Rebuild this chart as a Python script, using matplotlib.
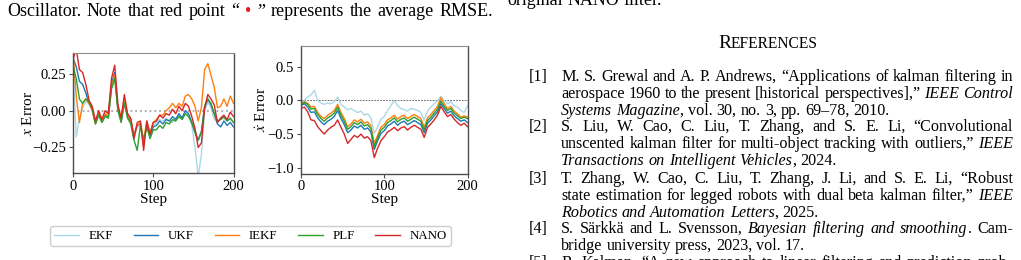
import numpy as np
import matplotlib
matplotlib.use("Agg")
import matplotlib.pyplot as plt

plt.rcParams["font.family"] = "serif"
plt.rcParams["font.serif"] = ["Liberation Serif", "DejaVu Serif"]
plt.rcParams["mathtext.fontset"] = "stix"

# steps (every 4th step)
steps = np.arange(0, 201, 4)

labels = ["EKF", "UKF", "IEKF", "PLF", "NANO"]
colors = ["lightblue", "#1f77b4", "#ff7f0e", "#2ca02c", "#d62728"]

# x error
x_ekf = [0.30, -0.18, -0.05, 0.02, 0.06, 0.05, 0.00, -0.09, -0.03, -0.08, -0.03, -0.05, 0.15, 0.22, 0.00, -0.08, 0.06,
         -0.05, -0.08, -0.19, -0.11, -0.10, -0.21, -0.08, -0.16, -0.10, -0.08, -0.06, -0.07, -0.05, -0.07, -0.08, -0.05,
         -0.03, -0.05, 0.00, -0.03, -0.10, -0.25, -0.45, -0.30, 0.00, 0.06, 0.02, -0.06, -0.07, -0.06, -0.05, -0.07,
         -0.06, -0.08]
x_ukf = [0.36, 0.30, 0.20, 0.18, 0.12, 0.05, 0.01, -0.08, -0.02, -0.07, -0.03, -0.04, 0.18, 0.26, 0.01, -0.07, 0.07,
         -0.04, -0.07, -0.17, -0.10, -0.09, -0.22, -0.09, -0.17, -0.11, -0.10, -0.07, -0.09, -0.06, -0.07, -0.04, -0.06,
         -0.02, -0.05, 0.00, -0.02, -0.08, -0.14, -0.20, -0.14, 0.02, 0.08, 0.04, -0.02, -0.09, -0.11, -0.07, -0.10,
         -0.08, -0.11]
x_iekf = [0.40, 0.10, -0.08, 0.05, 0.08, 0.05, 0.00, -0.09, -0.01, -0.07, -0.02, -0.04, 0.17, 0.24, 0.02, -0.06, 0.08,
          -0.03, -0.06, -0.17, -0.10, -0.08, -0.20, -0.07, -0.15, -0.08, -0.06, -0.03, -0.03, 0.00, 0.02, 0.05, 0.02,
          0.05, 0.03, 0.10, 0.11, 0.08, 0.03, -0.07, 0.02, 0.28, 0.32, 0.24, 0.16, 0.02, 0.03, 0.08, 0.03, 0.10, 0.05]
x_plf = [0.30, 0.22, 0.08, 0.05, 0.08, 0.06, 0.01, -0.09, -0.03, -0.08, -0.04, -0.05, 0.15, 0.22, 0.00, -0.08, 0.05,
         -0.05, -0.09, -0.20, -0.27, -0.10, -0.20, -0.11, -0.19, -0.13, -0.13, -0.10, -0.12, -0.08, -0.09, -0.06, -0.07,
         -0.04, -0.06, -0.02, -0.04, -0.08, -0.15, -0.20, -0.15, 0.03, 0.08, 0.05, -0.02, -0.07, -0.06, -0.04, -0.07,
         -0.05, -0.08]
x_nano = [0.35, 0.42, 0.28, 0.26, 0.18, 0.07, 0.03, -0.07, 0.00, -0.06, 0.00, -0.02, 0.22, 0.31, 0.04, -0.05, 0.11,
          -0.02, -0.05, -0.19, -0.08, -0.07, -0.27, -0.07, -0.16, -0.08, -0.07, -0.03, -0.05, -0.02, -0.03, 0.01, -0.02,
          0.03, 0.00, 0.05, 0.03, -0.04, -0.12, -0.25, -0.22, 0.02, 0.11, 0.08, 0.04, -0.08, -0.05, -0.03, -0.06,
          -0.01, -0.04]

# x-dot error
v_ekf = [-0.05, 0.00, 0.05, 0.08, 0.15, 0.00, -0.04, -0.06, -0.04, -0.05, -0.02, 0.05, -0.06, -0.10, -0.14, -0.12,
         -0.15, -0.18, -0.16, -0.22, -0.20, -0.26, -0.49, -0.40, -0.28, -0.24, -0.15, -0.08, 0.00, -0.08, -0.12, -0.14,
         -0.16, -0.12, -0.13, -0.15, -0.18, -0.30, -0.16, -0.10, -0.05, -0.01, 0.06, 0.00, -0.05, -0.02, -0.08, -0.10,
         -0.15, -0.18, -0.08]
v_ukf = [-0.08, -0.05, -0.10, -0.18, -0.17, -0.26, -0.32, -0.36, -0.31, -0.28, -0.24, -0.15, -0.27, -0.36, -0.48,
         -0.44, -0.38, -0.41, -0.37, -0.43, -0.41, -0.47, -0.73, -0.60, -0.49, -0.45, -0.38, -0.35, -0.31, -0.37, -0.33,
         -0.31, -0.36, -0.33, -0.30, -0.33, -0.36, -0.48, -0.34, -0.29, -0.23, -0.17, -0.05, -0.12, -0.19, -0.16, -0.23,
         -0.27, -0.31, -0.29, -0.33]
v_iekf = [-0.06, -0.02, -0.04, -0.10, -0.09, -0.18, -0.24, -0.27, -0.22, -0.19, -0.15, -0.06, -0.18, -0.27, -0.39,
          -0.35, -0.29, -0.32, -0.28, -0.34, -0.32, -0.38, -0.64, -0.52, -0.40, -0.36, -0.29, -0.26, -0.22, -0.28,
          -0.24, -0.22, -0.27, -0.24, -0.21, -0.24, -0.27, -0.40, -0.26, -0.21, -0.15, -0.09, 0.04, -0.05, -0.12, -0.09,
          -0.16, -0.20, -0.25, -0.23, -0.25]
v_plf = [-0.07, -0.03, -0.06, -0.13, -0.12, -0.21, -0.27, -0.31, -0.26, -0.23, -0.19, -0.10, -0.22, -0.31, -0.43,
         -0.39, -0.33, -0.36, -0.32, -0.38, -0.36, -0.42, -0.69, -0.56, -0.44, -0.40, -0.33, -0.30, -0.26, -0.32, -0.28,
         -0.26, -0.31, -0.28, -0.25, -0.28, -0.31, -0.44, -0.30, -0.25, -0.19, -0.13, -0.01, -0.09, -0.15, -0.12, -0.19,
         -0.23, -0.27, -0.25, -0.27]
v_nano = [-0.12, -0.10, -0.17, -0.29, -0.30, -0.39, -0.45, -0.50, -0.44, -0.40, -0.37, -0.29, -0.40, -0.50, -0.64,
          -0.58, -0.52, -0.55, -0.50, -0.56, -0.54, -0.60, -0.85, -0.71, -0.60, -0.54, -0.47, -0.44, -0.40, -0.45,
          -0.41, -0.39, -0.44, -0.40, -0.37, -0.40, -0.43, -0.55, -0.40, -0.35, -0.29, -0.22, -0.09, -0.17, -0.24,
          -0.21, -0.28, -0.33, -0.37, -0.34, -0.39]

W, H = 1021, 260
fig = plt.figure(figsize=(W / 100, H / 100), dpi=100)
renderer = fig.canvas.get_renderer()


def fx(px):
    return px / W


def fy(py):
    return 1 - py / H


def style_ax(ax):
    for s in ["left", "bottom", "right"]:
        ax.spines[s].set_color("0.3")
        ax.spines[s].set_linewidth(1.0)
    ax.spines["top"].set_color("0.55")
    ax.tick_params(labelsize=10.5, length=3, width=0.8, color="0.3", pad=2)
    ax.set_xlim(0, 200)
    ax.set_xticks([0, 100, 200])
    ax.set_xlabel("Step", fontsize=11, labelpad=0)


# left panel
ax1 = fig.add_axes([fx(73), fy(173.3), fx(160.5), (173.3 - 52.7) / H])
for y, c, l in zip([x_ekf, x_ukf, x_iekf, x_plf, x_nano], colors, labels):
    ax1.plot(steps, y, color=c, lw=1.0, label=l)
ax1.axhline(0, color="gray", ls=":", lw=1.3, alpha=0.7, zorder=0)
ax1.set_ylim(-0.426, 0.395)
ax1.set_yticks([-0.25, 0, 0.25])
ax1.set_ylabel("$x$ Error", fontsize=11)
ax1.yaxis.set_label_coords(-0.235, 0.5)
style_ax(ax1)

# right panel
ax2 = fig.add_axes([fx(301), fy(173.5), fx(166.5), (173.5 - 46) / H])
for y, c, l in zip([v_ekf, v_ukf, v_iekf, v_plf, v_nano], colors, labels):
    ax2.plot(steps, y, color=c, lw=1.0)
ax2.axhline(0, color="0.3", ls=(0, (2, 1.5)), lw=0.6, zorder=0)
ax2.set_ylim(-1.086, 0.807)
ax2.set_yticks([-1.0, -0.5, 0.0, 0.5])
ax2.set_ylabel("$\\dot{x}$ Error", fontsize=11)
ax2.yaxis.set_label_coords(-0.19, 0.5)
style_ax(ax2)

handles, _ = ax1.get_legend_handles_labels()
fig.legend(handles, labels, loc="center", bbox_to_anchor=(fx(250.5), fy(236)), ncol=5, fontsize=9.3,
           handlelength=1.9, handletextpad=0.75, columnspacing=1.6, frameon=True, fancybox=True,
           edgecolor="#cccccc", framealpha=1, borderpad=0.3)


# ---- surrounding page text ----
def parse_words(s):
    words, cur, buf = [], [], ""
    ital, red = False, False
    for ch in s:
        if ch in "*^":
            if buf:
                cur.append((buf, ital, red))
                buf = ""
            if ch == "*":
                ital = not ital
            else:
                red = not red
        elif ch == " ":
            if buf:
                cur.append((buf, ital, red))
                buf = ""
            if cur:
                words.append(cur)
                cur = []
        else:
            buf += ch
    if buf:
        cur.append((buf, ital, red))
    if cur:
        words.append(cur)
    return words


REF = 11.6    # reference list
BODY = 13.0   # body / caption text


def put_line(x0, x1, y, s, size=REF, justify=True):
    words = parse_words(s)
    made = []
    for w in words:
        segs = []
        for txt, it, red in w:
            t = fig.text(0, fy(y), txt, fontsize=size, style="italic" if it else "normal",
                         color="#e8141b" if red else "black", va="baseline", ha="left")
            segs.append((t, t.get_window_extent(renderer).width))
        made.append(segs)
    widths = [sum(s[1] for s in segs) for segs in made]
    space = size * 100 / 72 * 0.25
    if justify and len(made) > 1:
        space = (x1 - x0 - sum(widths)) / (len(made) - 1)
    x = x0
    for segs, wd in zip(made, widths):
        xx = x
        for t, sw in segs:
            t.set_x(fx(xx))
            xx += sw
        x += wd + space


put_line(7, 493, 16, "Oscillator. Note that red point “ ^•^ ” represents the average RMSE.", size=BODY)
put_line(507, 0, 5, "original NANO filter.", size=BODY, justify=False)

# small caps heading
t1 = fig.text(0, fy(48.5), "R", fontsize=14, va="baseline", ha="left")
t2 = fig.text(0, fy(48.5), "EFERENCES", fontsize=11.2, va="baseline", ha="left")
w1 = t1.get_window_extent(renderer).width
w2 = t2.get_window_extent(renderer).width
x_start = 768 - (w1 + w2) / 2
t1.set_x(fx(x_start))
t2.set_x(fx(x_start + w1))

refs = [
    ("[1]", 81, [("M. S. Grewal and A. P. Andrews, “Applications of kalman filtering in", True),
                 ("aerospace 1960 to the present [historical perspectives],” *IEEE Control*", True),
                 ("*Systems Magazine*, vol. 30, no. 3, pp. 69–78, 2010.", False)]),
    ("[2]", 131, [("S. Liu, W. Cao, C. Liu, T. Zhang, and S. E. Li, “Convolutional", True),
                  ("unscented kalman filter for multi-object tracking with outliers,” *IEEE*", True),
                  ("*Transactions on Intelligent Vehicles*, 2024.", False)]),
    ("[3]", 183, [("T. Zhang, W. Cao, C. Liu, T. Zhang, J. Li, and S. E. Li, “Robust", True),
                  ("state estimation for legged robots with dual beta kalman filter,” *IEEE*", True),
                  ("*Robotics and Automation Letters*, 2025.", False)]),
    ("[4]", 233, [("S. Särkkä and L. Svensson, *Bayesian filtering and smoothing*. Cam-", True),
                  ("bridge university press, 2023, vol. 17.", False)]),
    ("[5]", 267, [("R. Kalman, “A new approach to linear filtering and prediction prob-", True)]),
]
for tag, y0, lines in refs:
    fig.text(fx(548), fy(y0), tag, fontsize=REF, va="baseline", ha="right")
    for k, (ln, just) in enumerate(lines):
        put_line(561, 1013, y0 + 16.8 * k, ln, justify=just)

fig.savefig("out.png", dpi=100)
